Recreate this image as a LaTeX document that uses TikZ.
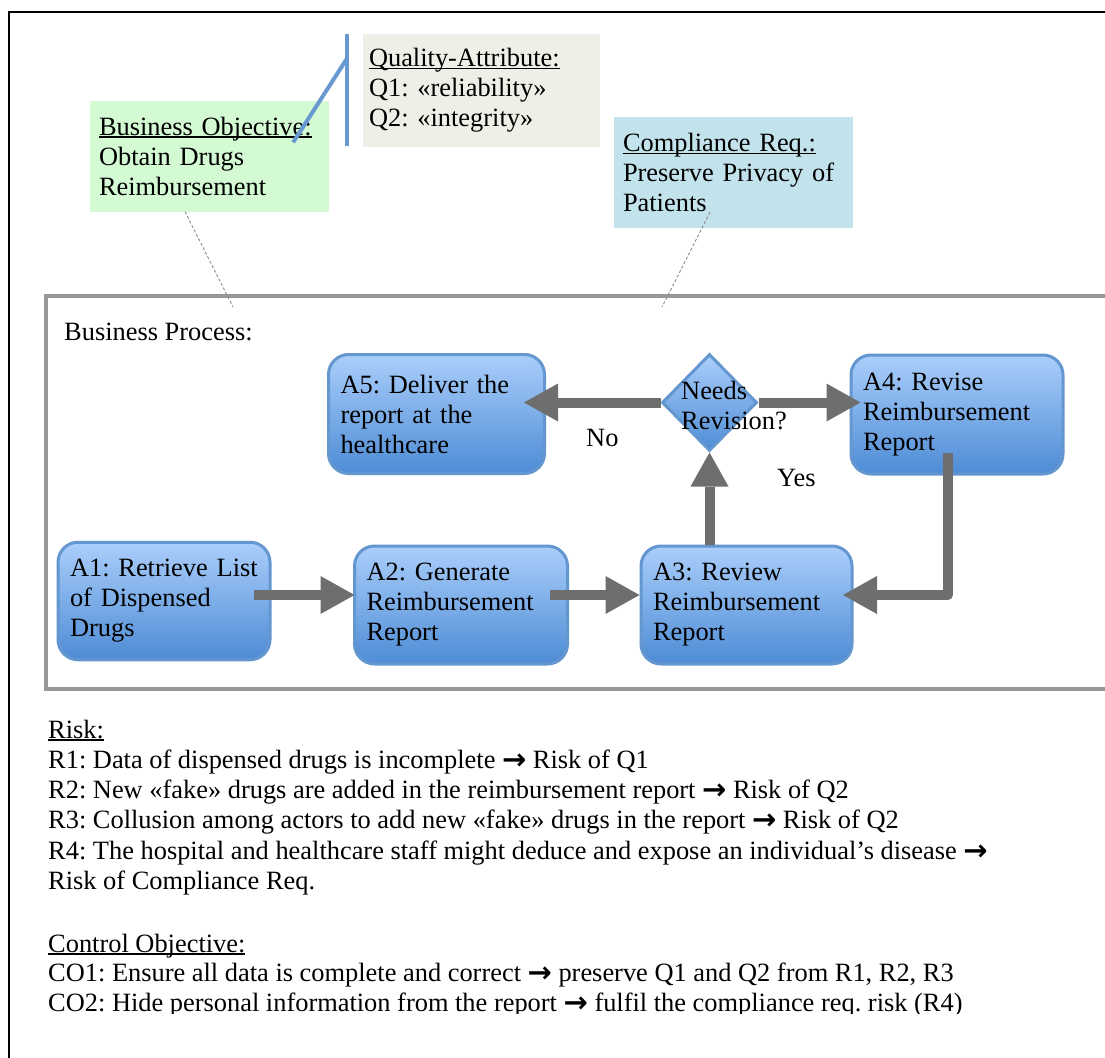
\documentclass[tikz,border=0pt]{standalone}
\usepackage{fontspec}
\setmainfont{Liberation Serif}
\newfontfamily\symfont{DejaVu Sans}
\usetikzlibrary{arrows.meta,shapes.geometric,calc}

% underline drawn at a fixed depth below the baseline
\newsavebox\ulinebox
\newcommand\uln[1]{\sbox\ulinebox{#1}\rlap{\rule[-2.6pt]{\wd\ulinebox}{1.4pt}}\usebox\ulinebox}
\newcommand\ArrowTo{{\symfont\bfseries\fontsize{29}{29}\selectfont\raisebox{-1pt}{→}}}

\definecolor{objGreen}{RGB}{212,250,212}
\definecolor{qaBeige}{RGB}{239,239,231}
\definecolor{crBlue}{RGB}{194,226,236}
\definecolor{calloutLine}{RGB}{104,153,208}
\definecolor{boxTop}{RGB}{170,206,251}
\definecolor{boxBot}{RGB}{78,140,213}
\definecolor{boxEdge}{RGB}{100,150,207}
\definecolor{flowGray}{RGB}{110,110,110}
\definecolor{frameGray}{RGB}{152,152,152}
\definecolor{leaderGray}{RGB}{140,140,140}

\tikzset{
  callout/.style={rectangle, inner ysep=0pt, align=left},
  actbox/.style={rectangle, draw=boxEdge, line width=3pt, rounded corners=20pt,
    top color=boxTop, bottom color=boxBot, inner xsep=12pt, inner ysep=0pt, align=left},
  decbox/.style={diamond, draw=boxEdge, line width=3pt, top color=boxTop,
    bottom color=boxBot, inner sep=0pt},
  flow/.style={draw=flowGray, line width=10pt, line join=round,
    -{Triangle[length=34pt,width=38pt,line width=0pt]}},
  leader/.style={draw=leaderGray, line width=0.9pt, dash pattern=on 3pt off 2pt},
  line/.style={anchor=base west, inner sep=0pt},
}

\begin{document}
\frenchspacing
\begin{tikzpicture}[x=1pt, y=-1pt, font=\fontsize{26.4}{30}\selectfont\frenchspacing]
\useasboundingbox (0,0) rectangle (1105,1057);
\clip (0,0) rectangle (1105,1057);
\fill[white] (0,0) rectangle (1105,1057);

% page frame
\draw[black, line width=2.2pt] (9,1100) -- (9,12) -- (1150,12);

% callouts
\node[callout, fill=objGreen, minimum width=239pt, minimum height=111pt,
  text width=221pt, inner xsep=9pt] (obj) at (209.5,156)
  {\uln{Business Objective:}\\Obtain Drugs\\Reimbursement};
\node[callout, fill=qaBeige, minimum width=237pt, minimum height=113pt,
  text width=225pt, inner xsep=6pt] (qa) at (481.5,90.5)
  {\uln{Quality-Attribute:}\\Q1: «reliability»\\Q2: «integrity»};
\node[callout, fill=crBlue, minimum width=239pt, minimum height=111pt,
  text width=221pt, inner xsep=9pt] (cr) at (733.5,172.5)
  {\uln{Compliance Req.:}\\Preserve Privacy of\\Patients};

% quality-attribute callout bar and pointer
\coordinate (qbarT) at ([xshift=-16pt]qa.north west);
\coordinate (qbarB) at ([xshift=-16pt,yshift=1pt]qa.south west);
\coordinate (qbarK) at ([xshift=-16pt,yshift=-25pt]qa.north west);
\coordinate (qtip) at ([xshift=-36pt,yshift=-42pt]obj.north east);
\draw[calloutLine, line width=4pt] (qbarT) -- (qbarB);
\draw[calloutLine, line width=4pt] (qbarK) -- (qtip);

% business process frame
\node[rectangle, draw=frameGray, line width=4pt, anchor=north west,
  minimum width=1100pt, minimum height=392.5pt, inner sep=0pt] (bp) at (43.5,294) {};
\node[line] (bptitle) at (64,340) {Business Process:};

% leaders from the callouts into the process
\coordinate (objEnd) at (233,307);
\coordinate (crEnd) at (662,307);
\draw[leader] ([xshift=-24.5pt]obj.south) -- (objEnd);
\draw[leader] ([xshift=-23.5pt,yshift=16pt]cr.south) -- (crEnd);

% activities
\node[actbox, minimum width=212pt, minimum height=117.5pt, text width=188pt] (a1)
  at (164,601) {A1: Retrieve List\\of Dispensed\\Drugs};
\node[actbox, minimum width=213pt, minimum height=118pt, text width=189pt] (a2)
  at (461,605) {A2: Generate\\Reimbursement\\Report};
\node[actbox, minimum width=211pt, minimum height=118pt, text width=187pt] (a3)
  at (746.5,605) {A3: Review\\Reimbursement\\Report};
\node[actbox, minimum width=212pt, minimum height=119pt, text width=188pt] (a4)
  at (957,414.5) {A4: Revise\\Reimbursement\\Report};
\node[actbox, minimum width=216pt, minimum height=119pt, text width=192pt] (a5)
  at (436.5,414) {A5: Deliver the\\report at the\\healthcare};
\node[decbox, minimum width=95pt, minimum height=97pt] (dec) at (709.5,402.5) {};
\node[anchor=west, inner sep=0pt, align=left] (dectext) at (681,405.5)
  {Needs\\Revision?};

% flow
\coordinate (s1) at ([xshift=-18pt,yshift=6pt]a1.east);
\draw[flow] (s1) -- ([xshift=1.5pt]s1 -| a2.west);
\coordinate (s2) at ([xshift=-19pt,yshift=10pt]a2.east);
\draw[flow] (s2) -- (s2 -| a3.west);
\draw[flow] (a3.north -| dec.south) -- (dec.south);
\draw[flow] (dec.east) -- ([xshift=11pt]a4.west |- dec.east);
\draw[flow] (dec.west) -- ([xshift=-22pt]a5.east |- dec.west);
\coordinate (r4) at ([xshift=-9.5pt,yshift=22.5pt]a4.south);
\draw[flow] (r4) |- ([xshift=-10.5pt,yshift=10pt]a3.east);

\node[line] (no) at (586,446.5) {No};
\node[line] (yes) at (777,486) {Yes};

% risks and control objectives
\node[line] (risk) at (48,738) {\uln{Risk:}};
\node[line] (r1) at (48,768) {R1: Data of dispensed drugs is incomplete \ArrowTo{} Risk of Q1};
\node[line] (r2) at (48,798) {R2: New «fake» drugs are added in the reimbursement report \ArrowTo{} Risk of Q2};
\node[line] (r3) at (48,828) {R3: Collusion among actors to add new «fake» drugs in the report \ArrowTo{} Risk of Q2};
\node[line] (r4t) at (48,859) {R4: The hospital and healthcare staff might deduce and expose an individual’s disease \ArrowTo};
\node[line] (r4b) at (48,889) {Risk of Compliance Req.};
\node[line] (ctl) at (48,952) {\uln{Control Objective:}};
\node[line] (co1) at (48,981) {CO1: Ensure all data is complete and correct \ArrowTo{} preserve Q1 and Q2 from R1, R2, R3};
\begin{scope}
  \clip (0,0) rectangle (1105,1013);
  \node[line] (co2) at (48,1011) {CO2: Hide personal information from the report \ArrowTo{} fulfil the compliance req. risk (R4)};
\end{scope}
\end{tikzpicture}
\end{document}
